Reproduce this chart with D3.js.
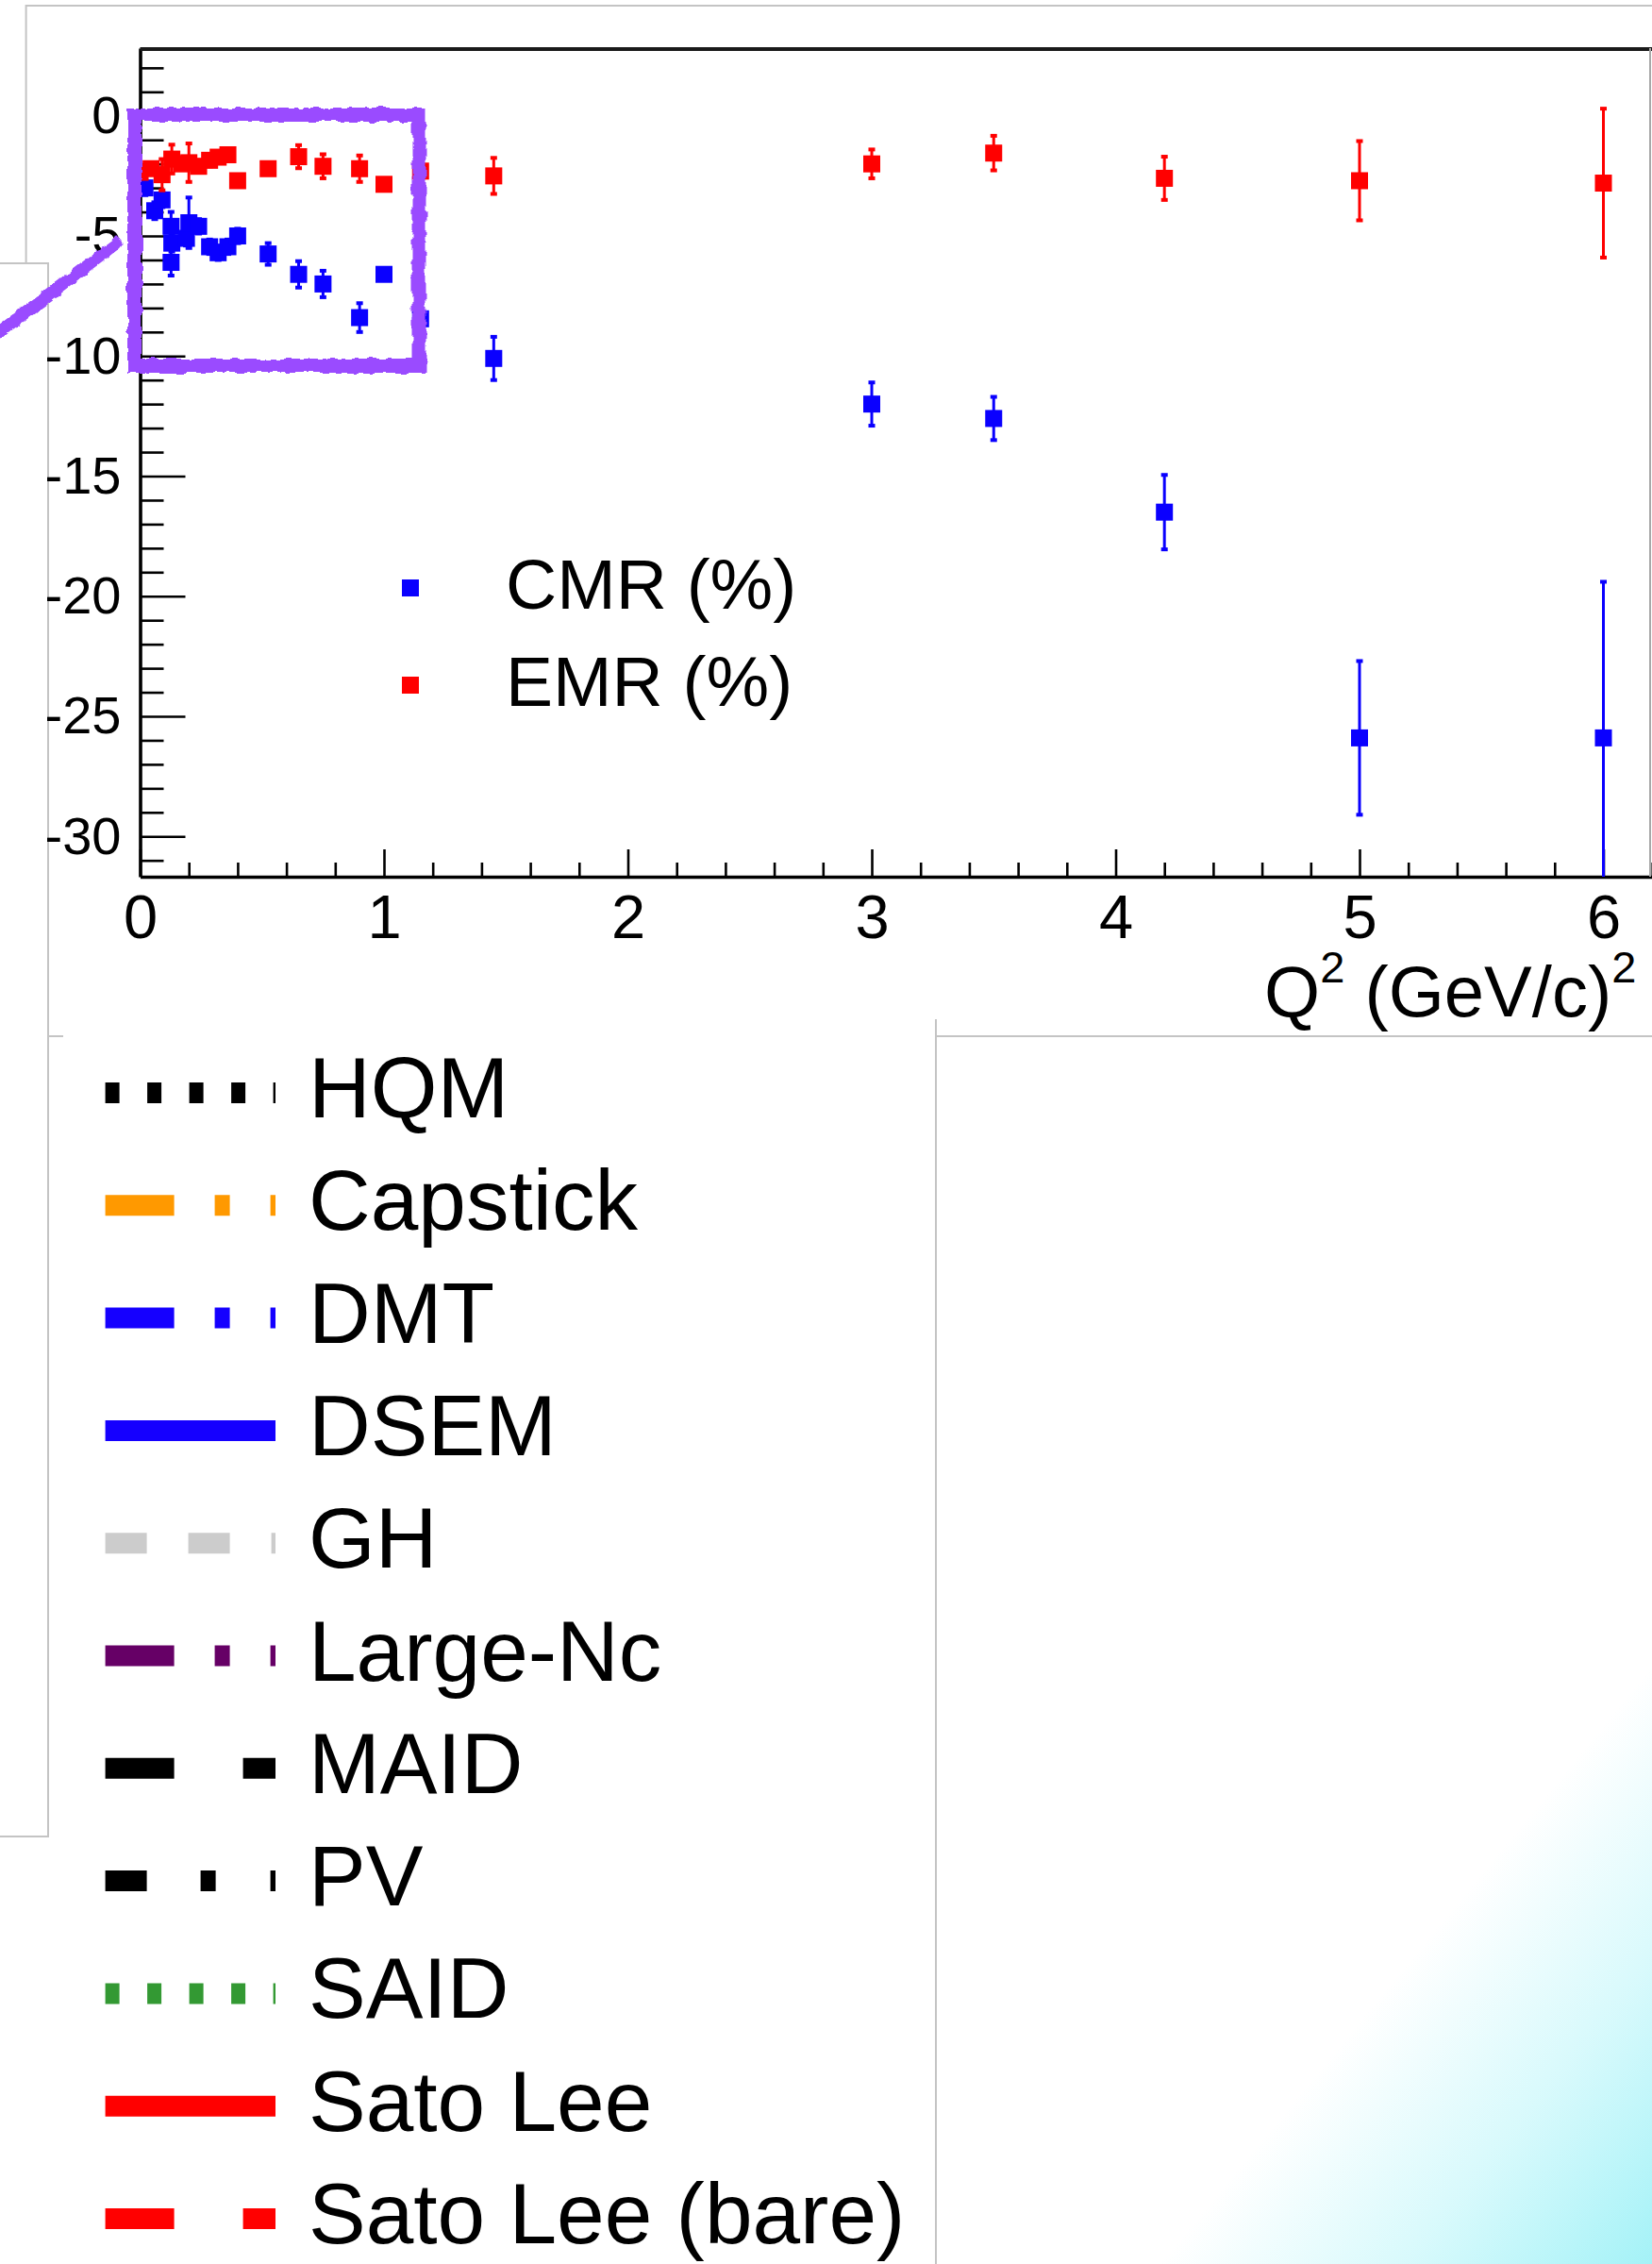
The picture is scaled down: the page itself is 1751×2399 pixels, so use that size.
<!DOCTYPE html>
<html><head><meta charset="utf-8">
<script src="https://cdn.jsdelivr.net/npm/d3@7"></script>
<style>
body{margin:0;background:#fff}
svg{display:block}
text{font-family:"Liberation Sans",Arial,Helvetica,sans-serif;fill:#000}
</style>
</head><body>
<svg id="chart" width="1751" height="2399"></svg>
<script>
// ---------- data ----------
const cmrQ2  = [0.02, 0.06, 0.09, 0.127, 0.13, 0.127, 0.19, 0.20, 0.24, 0.285, 0.32, 0.36, 0.40, 0.525, 0.65, 0.75, 0.90, 1.00, 1.15, 1.45, 3.0, 3.5, 4.2, 5.0, 6.0];
const cmrVal = [-3.0, -3.95, -3.5, -4.6, -5.3, -6.1, -5.1, -4.45, -4.6, -5.45, -5.7, -5.45, -5.0, -5.75, -6.6, -7.0, -8.4, -6.6, -8.45, -10.1, -12.0, -12.6, -16.5, -25.9, -25.9];
const cmrErr = [0.3, 0.35, 0.3, 0.6, 0.35, 0.55, 0.3, 1.05, 0.3, 0.3, 0.3, 0.3, 0.3, 0.45, 0.55, 0.55, 0.6, 0.2, 0.2, 0.9, 0.9, 0.9, 1.55, 3.2, 6.5];

const emrQ2  = [0.0, 0.045, 0.09, 0.13, 0.17, 0.20, 0.24, 0.285, 0.32, 0.36, 0.40, 0.525, 0.65, 0.75, 0.90, 1.00, 1.15, 1.45, 3.0, 3.5, 4.2, 5.0, 6.0];
const emrVal = [-2.35, -2.2, -2.45, -1.8, -2.0, -1.95, -2.1, -1.85, -1.72, -1.62, -2.7, -2.2, -1.7, -2.1, -2.2, -2.85, -2.3, -2.5, -2.0, -1.55, -2.6, -2.7, -2.8];
const emrErr = [0.2, 0.2, 0.65, 0.6, 0.25, 0.8, 0.25, 0.25, 0.25, 0.25, 0.2, 0.2, 0.48, 0.5, 0.55, 0.15, 0.2, 0.75, 0.6, 0.72, 0.9, 1.65, 3.1];

const xTickValues = [0, 1, 2, 3, 4, 5, 6];
const xTickLabels = ["0", "1", "2", "3", "4", "5", "6"];
const yTickValues = [0, -5, -10, -15, -20, -25, -30];
const yTickLabels = ["0", "-5", "-10", "-15", "-20", "-25", "-30"];

const seriesNames = ["CMR (%)", "EMR (%)"];
const modelNames = ["HQM", "Capstick", "DMT", "DSEM", "GH", "Large-Nc", "MAID", "PV", "SAID", "Sato Lee", "Sato Lee (bare)"];

// ---------- styles ----------
const seriesColors = ["#0a00ff", "#ff0000"];
const modelColors = ["#000000", "#ff9900", "#1500ff", "#1500ff", "#cccccc", "#660066", "#000000", "#000000", "#339933", "#ff0000", "#ff0000"];
const modelDashes = ["15,29.5", "73,43,16,43", "73,43,16,43", null, "44,44", "73,43,16,43", "73,73", "44,57,16,58", "15,29.5", null, "73,73"];

const svg = d3.select("#chart");
const defs = svg.append("defs");

// background glow (bottom-right)
const grad = defs.append("linearGradient").attr("id", "glow")
  .attr("gradientUnits", "userSpaceOnUse")
  .attr("x1", 1440).attr("y1", 2143).attr("x2", 1751).attr("y2", 2399);
grad.append("stop").attr("offset", 0).attr("stop-color", "#a8f3f8").attr("stop-opacity", 0);
grad.append("stop").attr("offset", 0.5).attr("stop-color", "#a8f3f8").attr("stop-opacity", 0.45);
grad.append("stop").attr("offset", 1).attr("stop-color", "#a4f2f7").attr("stop-opacity", 1);
svg.append("rect").attr("x", 900).attr("y", 1600).attr("width", 851).attr("height", 799).attr("fill", "url(#glow)");

// rough filter for hand-drawn annotation
const f = defs.append("filter").attr("id", "rough").attr("x", "-20%").attr("y", "-20%").attr("width", "140%").attr("height", "140%");
f.append("feTurbulence").attr("type", "fractalNoise").attr("baseFrequency", 0.09).attr("numOctaves", 2).attr("seed", 4).attr("result", "n");
f.append("feDisplacementMap").attr("in", "SourceGraphic").attr("in2", "n").attr("scale", 7).attr("xChannelSelector", "R").attr("yChannelSelector", "G");

// ---------- frames of surrounding panels ----------
const frame = svg.append("g").attr("fill", "none").attr("stroke", "#c4c4c4").attr("stroke-width", 2);
frame.append("path").attr("d", "M27.6,279V6H1751");
frame.append("rect").attr("x", -3).attr("y", 279).attr("width", 54).attr("height", 1667).attr("fill", "#fff");
frame.append("path").attr("d", "M51,1098H67");
frame.append("path").attr("d", "M992,1080V2399M992,1098H1751");

// ---------- scales ----------
const x = d3.scaleLinear().domain([0, 6.2]).range([148.5, 148.5 + 6.2 * 258.5]);
const y = d3.scaleLinear().domain([-31.68, 2.82]).range([929, 51]);
const [px0, px1] = x.range();
const [py1, py0] = y.range();

// ---------- axes ----------
const minorX = d3.range(0, 6.21, 0.2).filter(v => Math.abs(v - Math.round(v)) > 1e-6);
const minorY = d3.range(-31, 3, 1).filter(v => v % 5 !== 0);

const gxMinor = svg.append("g").attr("transform", `translate(0,${py1})`)
  .call(d3.axisBottom(x).tickValues(minorX).tickFormat("").tickSize(-15).tickSizeOuter(0));
gxMinor.select(".domain").remove();
const gx = svg.append("g").attr("transform", `translate(0,${py1})`)
  .call(d3.axisBottom(x).tickValues(xTickValues).tickFormat((d, i) => xTickLabels[i]).tickSize(-29).tickSizeOuter(0).tickPadding(19));

const gyMinor = svg.append("g").attr("transform", `translate(${px0},0)`)
  .call(d3.axisLeft(y).tickValues(minorY).tickFormat("").tickSize(-25).tickSizeOuter(0));
gyMinor.select(".domain").remove();
const gy = svg.append("g").attr("transform", `translate(${px0},0)`)
  .call(d3.axisLeft(y).tickValues(yTickValues).tickFormat((d, i) => yTickLabels[i]).tickSize(-48).tickSizeOuter(0).tickPadding(20));

svg.selectAll(".tick line").attr("stroke", "#000").attr("stroke-width", 2.6);
svg.selectAll(".domain").attr("stroke", "#000").attr("stroke-width", 3.6);
gx.selectAll("text").attr("font-size", 65).attr("font-family", "Liberation Sans, Arial, sans-serif").attr("fill", "#000");
gy.selectAll("text").attr("font-size", 56).attr("font-family", "Liberation Sans, Arial, sans-serif").attr("fill", "#000");

// top and right frame
svg.append("line").attr("x1", px0).attr("x2", px1).attr("y1", py0 + 1).attr("y2", py0 + 1)
  .attr("stroke", "#1a1a1a").attr("stroke-width", 4);
svg.append("line").attr("x1", 1749).attr("x2", 1749).attr("y1", py0).attr("y2", py1)
  .attr("stroke", "#a8a8a8").attr("stroke-width", 2);

// x title
const xt = svg.append("text").attr("x", 1340).attr("y", 1077).attr("font-size", 76);
xt.append("tspan").text("Q");
xt.append("tspan").attr("font-size", 47).attr("dy", -36).text("2");
xt.append("tspan").attr("dy", 36).text(" (GeV/c)");
xt.append("tspan").attr("font-size", 47).attr("dy", -36).text("2");

// ---------- data points ----------
defs.append("clipPath").attr("id", "plotclip").append("rect")
  .attr("x", px0).attr("y", py0).attr("width", px1 - px0).attr("height", py1 - py0);
const plot = svg.append("g").attr("clip-path", "url(#plotclip)");

function drawSeries(q2, val, err, color) {
  const pts = q2.map((q, i) => ({ q, v: val[i], e: err[i] }));
  const g = plot.append("g");
  g.selectAll("line.eb").data(pts).join("line").attr("class", "eb")
    .attr("x1", d => x(d.q)).attr("x2", d => x(d.q))
    .attr("y1", d => y(d.v + d.e)).attr("y2", d => y(d.v - d.e))
    .attr("stroke", color).attr("stroke-width", 3);
  const caps = pts.flatMap(d => [{ q: d.q, v: d.v + d.e }, { q: d.q, v: d.v - d.e }]);
  g.selectAll("rect.cap").data(caps).join("rect").attr("class", "cap")
    .attr("x", d => x(d.q) - 3.5).attr("y", d => y(d.v) - 2).attr("width", 7).attr("height", 4)
    .attr("fill", color);
  g.selectAll("rect.mk").data(pts).join("rect").attr("class", "mk")
    .attr("x", d => x(d.q) - 9).attr("y", d => y(d.v) - 9).attr("width", 18).attr("height", 18)
    .attr("fill", color);
}
drawSeries(cmrQ2, cmrVal, cmrErr, seriesColors[0]);
drawSeries(emrQ2, emrVal, emrErr, seriesColors[1]);

// in-plot legend
const lg = svg.append("g");
seriesNames.forEach((name, i) => {
  const by = 645 + i * 103;
  lg.append("rect").attr("x", 435 - 9).attr("y", by - 22 - 9).attr("width", 18).attr("height", 18).attr("fill", seriesColors[i]);
  lg.append("text").attr("x", 536).attr("y", by).attr("font-size", 75).text(name);
});

// ---------- model legend ----------
const ml = svg.append("g");
modelNames.forEach((name, i) => {
  const by = 1184 + i * 119.3;
  const ln = ml.append("line").attr("x1", 111.6).attr("x2", 292).attr("y1", by - 26).attr("y2", by - 26)
    .attr("stroke", modelColors[i]).attr("stroke-width", 22).attr("stroke-linecap", "butt");
  if (modelDashes[i]) ln.attr("stroke-dasharray", modelDashes[i]);
  ml.append("text").attr("x", 327).attr("y", by).attr("font-size", 91).text(name);
});

// ---------- hand-drawn purple annotation ----------
const ann = svg.append("g").attr("filter", "url(#rough)").attr("fill", "none").attr("stroke", "#9a4cff");
ann.append("rect").attr("x", 142.5).attr("y", 121.5).attr("width", 301.5).attr("height", 266)
  .attr("stroke-width", 15);
ann.append("line").attr("x1", 124).attr("y1", 258).attr("x2", -6).attr("y2", 356)
  .attr("stroke-width", 13).attr("stroke-linecap", "round");
</script>
</body></html>
